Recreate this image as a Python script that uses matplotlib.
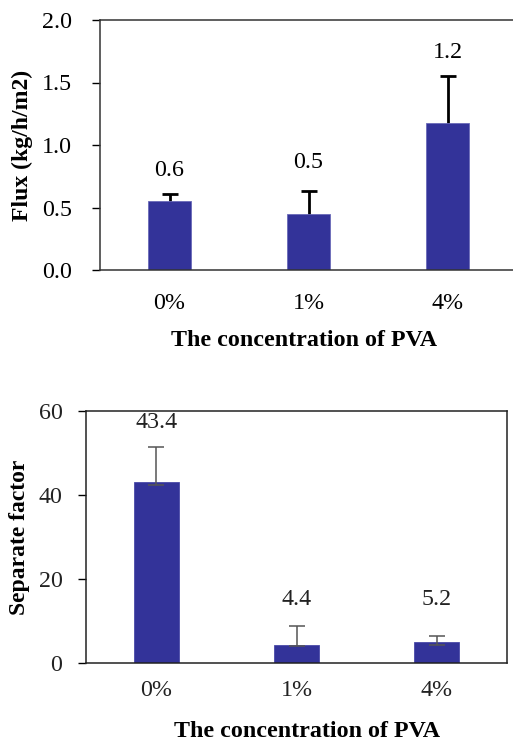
import matplotlib
matplotlib.use("Agg")
import matplotlib.pyplot as plt
import numpy as np

plt.rcParams['font.family'] = ['Liberation Serif', 'DejaVu Serif']

categories = ["0%", "1%", "4%"]

flux = [0.55, 0.45, 1.18]
flux_err = [0.06, 0.18, 0.37]
flux_labels = ["0.6", "0.5", "1.2"]
flux_label_y = [0.80, 0.86, 1.74]

sep = [43.2, 4.2, 5.0]
sep_err_up = [8.3, 4.6, 1.4]
sep_err_down = [0.8, 0.2, 0.8]
sep_labels = ["43.4", "4.4", "5.2"]
sep_label_y = [57.3, 15.0, 15.0]

bar_color = "#333399"
W, H = 513, 744
FS = 17.3
fig = plt.figure(figsize=(W / 100, H / 100), dpi=100)

def frac(l, t, r, b):
    return [l / W, 1 - b / H, (r - l) / W, (b - t) / H]

x = np.arange(len(categories))

# ---- Top chart ----
ax1 = fig.add_axes(frac(100, 20, 517, 270))
ax1.bar(x, flux, width=0.31, color=bar_color, edgecolor="#6a6ab8", linewidth=0.6, zorder=2)
ax1.errorbar(x, flux, yerr=flux_err, fmt="none", ecolor="black",
             elinewidth=2, capsize=6, capthick=2, zorder=1)
for xi, lab, ly in zip(x, flux_labels, flux_label_y):
    ax1.text(xi, ly, lab, ha="center", va="center", fontsize=FS)
ax1.set_xlim(-0.5, 2.5)
ax1.set_ylim(0, 2.0)
ax1.set_yticks([0, 0.5, 1.0, 1.5, 2.0])
ax1.set_yticklabels(["0.0", "0.5", "1.0", "1.5", "2.0"])
ax1.set_xticks(x)
ax1.set_xticklabels(categories)
ax1.tick_params(axis="y", direction="out", length=6, width=1, pad=14, labelsize=FS)
ax1.tick_params(axis="x", length=0, pad=16.5, labelsize=FS)
for s in ["left", "bottom", "top", "right"]:
    ax1.spines[s].set_color("#333333")
    ax1.spines[s].set_linewidth(1.1)
ax1.set_ylabel("Flux (kg/h/m2)", fontsize=17, fontweight="bold")
ax1.yaxis.set_label_coords(-0.161, 0.5)
fig.text(304 / W, 1 - 346 / H, "The concentration of PVA", ha="center", va="baseline",
         fontsize=FS, fontweight="bold")

# ---- Bottom chart ----
ax2 = fig.add_axes(frac(86, 411.3, 507, 662.7))
ax2.bar(x, sep, width=0.32, color=bar_color, edgecolor="#4a4aa8", linewidth=0.6, zorder=2)
ax2.errorbar(x, sep, yerr=[sep_err_down, sep_err_up], fmt="none", ecolor="#555555",
             elinewidth=1.1, capsize=5.5, capthick=1.1, zorder=3)
for xi, lab, ly in zip(x, sep_labels, sep_label_y):
    ax2.text(xi, ly, lab, ha="center", va="center", fontsize=FS, color="#222222")
ax2.set_xlim(-0.5, 2.5)
ax2.set_ylim(0, 60)
ax2.set_yticks([0, 20, 40, 60])
ax2.set_xticks(x)
ax2.set_xticklabels(categories)
ax2.tick_params(axis="y", direction="out", length=6, width=1, pad=11, labelsize=FS,
                labelcolor="#222222")
ax2.tick_params(axis="x", length=0, pad=12.5, labelsize=FS, labelcolor="#222222")
for s in ["left", "bottom", "top", "right"]:
    ax2.spines[s].set_color("#222222")
    ax2.spines[s].set_linewidth(1.1)
ax2.set_ylabel("Separate factor", fontsize=17, fontweight="bold")
ax2.yaxis.set_label_coords(-0.133, 0.5)
fig.text(307 / W, 1 - 737 / H, "The concentration of PVA", ha="center", va="baseline",
         fontsize=FS, fontweight="bold")

fig.savefig("out.png", dpi=100)
